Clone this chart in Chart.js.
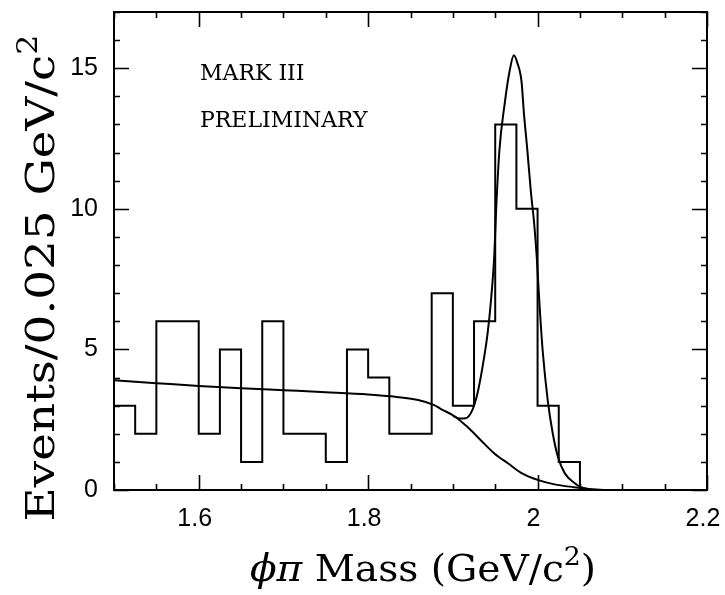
<!DOCTYPE html>
<html>
<head>
<meta charset="utf-8">
<script src="https://cdn.jsdelivr.net/npm/chart.js@4/dist/chart.umd.min.js"></script>
<style>
  html, body { margin: 0; padding: 0; background: #fff; }
  #wrap { width: 725px; height: 595px; }
</style>
</head>
<body>
<div id="wrap"><canvas id="c" width="725" height="595"></canvas></div>
<script>
// Histogram: lower edge of each 0.025 GeV bin and the event count in it
const binLow = [1.500, 1.525, 1.550, 1.575, 1.600, 1.625, 1.650, 1.675, 1.700, 1.725, 1.750,
                1.775, 1.800, 1.825, 1.850, 1.875, 1.900, 1.925, 1.950, 1.975, 2.000, 2.025];
const counts = [3, 2, 6, 6, 2, 5, 1, 6, 2, 2, 1, 5, 4, 2, 2, 7, 3, 6, 13, 10, 3, 1];
const lastEdge = 2.050;

// Background fit curve
const bgMass = [1.500, 1.550, 1.600, 1.650, 1.700, 1.750, 1.800, 1.827, 1.859, 1.878, 1.886,
                1.901, 1.918, 1.933, 1.949, 1.965, 1.980, 2.001, 2.020, 2.043, 2.063, 2.080];
const bgVal  = [3.90, 3.80, 3.70, 3.62, 3.55, 3.48, 3.40, 3.33, 3.20, 3.02, 2.88,
                2.64, 2.22, 1.77, 1.30, 0.95, 0.62, 0.35, 0.20, 0.10, 0.03, 0.00];

// Signal + background fit curve (below 1.90 it follows the background)
const fitMass = [1.900, 1.908, 1.915, 1.923, 1.929, 1.935, 1.941, 1.945, 1.949, 1.951, 1.955,
                 1.961, 1.967, 1.972, 1.976, 1.981, 1.984, 1.988, 1.992, 1.996, 1.999, 2.002,
                 2.006, 2.012, 2.018, 2.024, 2.032, 2.044, 2.051, 2.063, 2.075];
const fitVal  = [2.64, 2.54, 2.55, 2.84, 3.43, 4.37, 5.57, 6.74, 8.40, 9.90, 12.1,
                 13.7, 14.9, 15.46, 15.2, 14.54, 13.36, 12.06, 10.64, 9.47, 8.30, 6.74,
                 4.96, 3.19, 2.00, 1.18, 0.60, 0.24, 0.10, 0.02, 0.00];

// Axis tick labels
const xTickLabels = [1.6, 1.8, 2.0, 2.2];
const yTickLabels = [0, 5, 10, 15];

const xRange = [1.5, 2.2];
const yRange = [0, 17];

const histPoints = binLow.map((m, i) => ({ x: m, y: counts[i] }));
histPoints.push({ x: lastEdge, y: 0 });

const toXY = (xs, ys) => xs.map((v, i) => ({ x: v, y: ys[i] }));

// Draws a run of text pieces centred on x0; pieces may be italic or raised
function drawRuns(ctx, runs, size, x0, y0) {
  const fontOf = r => `${r.italic ? 'italic ' : ''}${r.sup ? Math.round(size * 0.68) : size}px "DejaVu Serif"`;
  let total = 0;
  runs.forEach(r => { ctx.font = fontOf(r); total += ctx.measureText(r.t).width; });
  let x = x0 - total / 2;
  ctx.textAlign = 'left';
  runs.forEach(r => {
    ctx.font = fontOf(r);
    ctx.fillText(r.t, x, y0 - (r.sup ? size * 0.42 : 0));
    x += ctx.measureText(r.t).width;
  });
}

// Frame, inward ticks on all four sides, axis titles and the text inside the plot
const framePlugin = {
  id: 'frame',
  afterDraw(chart) {
    const { ctx, chartArea: a, scales: { x, y } } = chart;
    ctx.save();
    ctx.strokeStyle = '#000';
    ctx.lineWidth = 2;
    ctx.strokeRect(a.left, a.top, a.right - a.left, a.bottom - a.top);

    ctx.lineWidth = 1.6;
    ctx.beginPath();
    for (let k = 0; k <= 14; k++) {
      const v = xRange[0] + k * 0.05;
      const px = Math.round(x.getPixelForValue(v)) + 0.5;
      const isMajor = xTickLabels.some(t => Math.abs(t - v) < 1e-6);
      const len = isMajor ? 15 : 6;
      ctx.moveTo(px, a.bottom); ctx.lineTo(px, a.bottom - len);
      ctx.moveTo(px, a.top); ctx.lineTo(px, a.top + len);
    }
    for (let k = 0; k <= 17; k++) {
      const py = Math.round(y.getPixelForValue(k)) + 0.5;
      const isMajor = yTickLabels.includes(k);
      const len = isMajor ? 15 : 6;
      ctx.moveTo(a.left, py); ctx.lineTo(a.left + len, py);
      ctx.moveTo(a.right, py); ctx.lineTo(a.right - len, py);
    }
    ctx.stroke();

    ctx.fillStyle = '#000';
    ctx.font = '22px "DejaVu Serif"';
    ctx.textAlign = 'left';
    ctx.textBaseline = 'alphabetic';
    ctx.fillText('MARK III', 200, 80);
    ctx.fillText('PRELIMINARY', 200, 127);

    ctx.save();
    ctx.translate(423, 581);
    ctx.scale(1.03, 1);
    drawRuns(ctx, [
      { t: '\u03D5\u03C0', italic: true },
      { t: ' Mass (GeV/c' },
      { t: '2', sup: true },
      { t: ')' }
    ], 38, 0, 0);
    ctx.restore();

    ctx.save();
    ctx.translate(54, 278);
    ctx.rotate(-Math.PI / 2);
    ctx.scale(1.17, 1);
    drawRuns(ctx, [
      { t: 'Events/0.025 GeV/c' },
      { t: '2', sup: true }
    ], 40, 0, 0);
    ctx.restore();
    ctx.restore();
  }
};

new Chart(document.getElementById('c'), {
  type: 'line',
  data: {
    datasets: [
      {
        label: 'Events',
        data: histPoints,
        stepped: 'before',
        borderColor: '#000',
        borderWidth: 2,
        pointRadius: 0,
        fill: false
      },
      {
        label: 'Background',
        data: toXY(bgMass, bgVal),
        borderColor: '#000',
        borderWidth: 2,
        pointRadius: 0,
        cubicInterpolationMode: 'monotone',
        fill: false
      },
      {
        label: 'Fit',
        data: toXY(fitMass, fitVal),
        borderColor: '#000',
        borderWidth: 2,
        pointRadius: 0,
        cubicInterpolationMode: 'monotone',
        fill: false
      }
    ]
  },
  options: {
    responsive: false,
    animation: false,
    devicePixelRatio: 1,
    layout: { padding: { top: 12, right: 18, left: 0, bottom: 0 } },
    plugins: { legend: { display: false }, tooltip: { enabled: false }, title: { display: false } },
    scales: {
      x: {
        type: 'linear',
        min: xRange[0],
        max: xRange[1],
        grid: { display: false, drawTicks: false },
        border: { display: false },
        afterBuildTicks: s => { s.ticks = xTickLabels.map(v => ({ value: v })); },
        afterFit: s => { s.height = 105; s.paddingLeft = 0; s.paddingRight = 0; },
        ticks: {
          color: '#000',
          padding: 14,
          labelOffset: -4,
          maxRotation: 0,
          font: { family: '"Liberation Sans", Arial, sans-serif', size: 25 },
          callback: v => String(Math.round(v * 10) / 10)
        }
      },
      y: {
        type: 'linear',
        min: yRange[0],
        max: yRange[1],
        grid: { display: false, drawTicks: false },
        border: { display: false },
        afterBuildTicks: s => { s.ticks = yTickLabels.map(v => ({ value: v })); },
        afterFit: s => { s.width = 114; s.paddingTop = 0; s.paddingBottom = 0; },
        ticks: {
          color: '#000',
          padding: 16,
          font: { family: '"Liberation Sans", Arial, sans-serif', size: 25 },
          callback: v => String(v)
        }
      }
    }
  },
  plugins: [framePlugin]
});
</script>
</body>
</html>
